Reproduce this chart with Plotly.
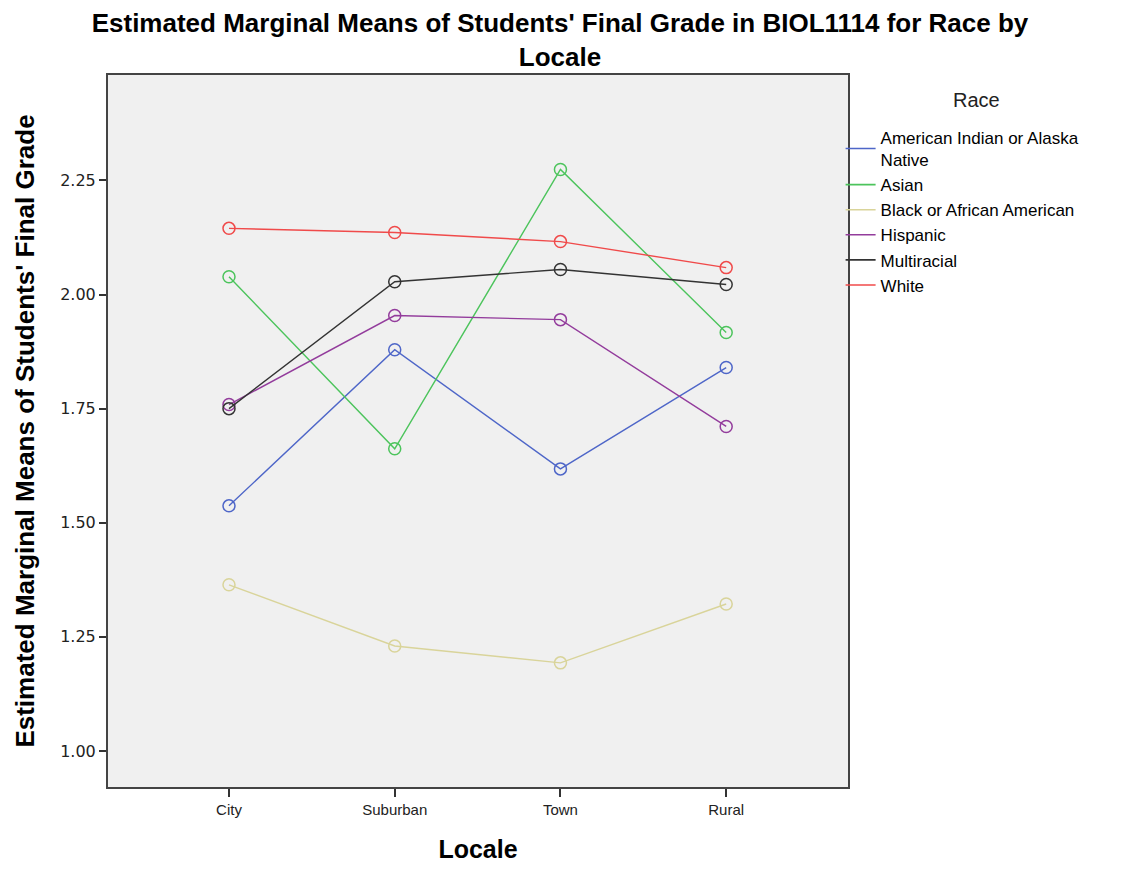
import plotly.graph_objects as go

locales = ["City", "Suburban", "Town", "Rural"]
race_names = ["American Indian or Alaska<br>Native", "Asian", "Black or African American",
              "Hispanic", "Multiracial", "White"]
am_indian = [1.537, 1.879, 1.618, 1.840]
asian = [2.039, 1.662, 2.274, 1.917]
black = [1.364, 1.230, 1.193, 1.322]
hispanic = [1.759, 1.954, 1.945, 1.711]
multiracial = [1.750, 2.028, 2.055, 2.022]
white = [2.145, 2.136, 2.116, 2.059]
series = [am_indian, asian, black, hispanic, multiracial, white]
colors = ["#4e66c8", "#4cc45c", "#d9d49a", "#933c9c", "#333333", "#f04a4a"]
y_ticks = [1.00, 1.25, 1.50, 1.75, 2.00, 2.25]

fig = go.Figure()
for name, vals, col in zip(race_names, series, colors):
    fig.add_trace(go.Scatter(
        x=[0, 1, 2, 3], y=vals, name=name, mode="lines+markers", showlegend=False,
        line=dict(color=col, width=1.4),
        marker=dict(symbol="circle-open", size=12, color=col, line=dict(width=1.5, color=col)),
    ))
# legend entries (line only, as in the reference)
for name, col in zip(race_names, colors):
    fig.add_trace(go.Scatter(
        x=[None], y=[None], name=name, mode="lines",
        line=dict(color=col, width=1.6), showlegend=True,
    ))

W, H = 1117, 855
font = "Liberation Sans, Arial, sans-serif"
fig.update_layout(
    width=W, height=H,
    margin=dict(l=100, r=277, t=67, b=76),
    paper_bgcolor="white", plot_bgcolor="#f0f0f0",
    font=dict(family=font, color="#000000"),
    title=dict(text="<b>Estimated Marginal Means of Students' Final Grade in BIOL1114 for Race by<br>Locale</b>",
               x=552 / W, xanchor="center", xref="container", yref="container",
               y=1 - 24 / H, yanchor="middle",
               font=dict(size=26, family=font, color="#000")),
    xaxis=dict(
        range=[-0.73, 3.735], tickvals=[0, 1, 2, 3], ticktext=locales,
        ticks="outside", ticklen=8, tickcolor="#333", tickwidth=1.5,
        showgrid=False, zeroline=False, automargin=False,
        showline=True, linecolor="#444", linewidth=2, mirror=True,
        tickfont=dict(size=15, color="#222"),
        title=dict(text="<b>Locale</b>", font=dict(size=25), standoff=32),
    ),
    yaxis=dict(
        range=[0.921, 2.481], tickvals=y_ticks, ticktext=[f"{v:.2f}" for v in y_ticks],
        ticks="outside", ticklen=7, tickcolor="#333", tickwidth=1.5,
        showgrid=False, zeroline=False, automargin=False,
        showline=True, linecolor="#444", linewidth=2, mirror=True,
        tickfont=dict(size=16, color="#222", family="DejaVu Sans, sans-serif"),
        title=dict(text="<b>Estimated Marginal Means of Students' Final Grade</b>", font=dict(size=26), standoff=18),
    ),
    legend=dict(
        x=0.99, xanchor="left", y=0.937, yanchor="top",
        font=dict(size=17), bgcolor="rgba(0,0,0,0)",
        tracegroupgap=0, itemwidth=30,
    ),
    annotations=[dict(text="Race", xref="paper", yref="paper",
                      x=1 + (977 - 848) / 740, y=1 + (75 - 100) / 712,
                      xanchor="center", yanchor="middle", showarrow=False,
                      font=dict(size=20, color="#222"))],
    showlegend=True,
)
fig.write_html("out.html")
